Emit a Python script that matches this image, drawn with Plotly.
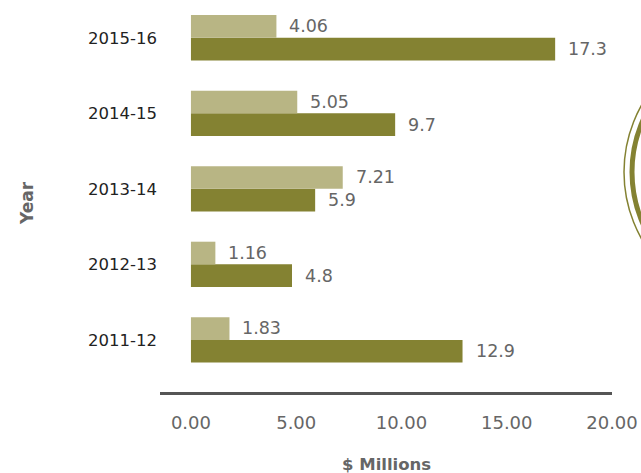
import plotly.graph_objects as go

# Funding by financial year ($ millions)
years = ["2011-12", "2012-13", "2013-14", "2014-15", "2015-16"]
series_light = [1.83, 1.16, 7.21, 5.05, 4.06]
series_dark = [12.9, 4.8, 5.9, 9.7, 17.3]
x_ticks = [0, 5, 10, 15, 20]

LIGHT = "#b8b584"
DARK = "#848232"
GREY = "#666666"
FONT = "DejaVu Sans"

W, H = 641, 473
ML, MR, MT, MB = 160, 29, 0, 81
PW, PH = W - ML - MR, H - MT - MB


def px_to_paper(px, py):
    return (px - ML) / PW, (H - MB - py) / PH


fig = go.Figure()
# dark first so it sits in the lower slot of each group
fig.add_trace(go.Bar(y=years, x=series_dark, orientation="h",
                     marker=dict(color=DARK, line=dict(width=0)),
                     hoverinfo="skip"))
fig.add_trace(go.Bar(y=years, x=series_light, orientation="h",
                     marker=dict(color=LIGHT, line=dict(width=0)),
                     hoverinfo="skip"))

annotations = []
for yr, v in zip(years, series_light):
    annotations.append(dict(x=v, y=yr, xref="x", yref="y", text=f"{v:.2f}",
                            showarrow=False, xanchor="left", yanchor="middle",
                            xshift=11, yshift=11.5,
                            font=dict(family=FONT, size=17.5, color=GREY)))
for yr, v in zip(years, series_dark):
    annotations.append(dict(x=v, y=yr, xref="x", yref="y", text=f"{v:g}",
                            showarrow=False, xanchor="left", yanchor="middle",
                            xshift=11, yshift=-11.5,
                            font=dict(family=FONT, size=17.5, color=GREY)))

# axis titles
tx, ty = px_to_paper(27, 203)
annotations.append(dict(x=tx, y=ty, xref="paper", yref="paper", text="Year",
                        textangle=-90, showarrow=False,
                        xanchor="center", yanchor="middle",
                        font=dict(family=FONT, size=17, color=GREY, weight="bold")))
mx, my = px_to_paper(386, 464)
annotations.append(dict(x=mx, y=my, xref="paper", yref="paper", text="$ Millions",
                        showarrow=False, xanchor="center", yanchor="middle",
                        font=dict(family=FONT, size=16.5, color=GREY, weight="bold")))

# decorative double ring at the right edge
cx, cy = 760, 172
shapes = []
for r, w in [(136, 1.5), (128, 5)]:
    x0, y1 = px_to_paper(cx - r, cy - r)
    x1, y0 = px_to_paper(cx + r, cy + r)
    shapes.append(dict(type="circle", xref="paper", yref="paper",
                       x0=x0, x1=x1, y0=y0, y1=y1,
                       line=dict(color=DARK, width=w), layer="above"))

fig.update_layout(
    width=W, height=H,
    margin=dict(l=ML, r=MR, t=MT, b=MB, pad=0),
    paper_bgcolor="white", plot_bgcolor="white",
    barmode="group", bargap=0.4, bargroupgap=0,
    showlegend=False,
    annotations=annotations,
    shapes=shapes,
    xaxis=dict(range=[-1.47, 20], tickvals=x_ticks, tickformat=".2f",
               showgrid=False, zeroline=False,
               showline=True, linecolor="#555555", linewidth=3,
               ticks="", ticklabelstandoff=12,
               tickfont=dict(family=FONT, size=18, color=GREY),
               fixedrange=True),
    yaxis=dict(type="category", range=[-0.69, 4.5],
               showgrid=False, zeroline=False, showline=False,
               ticks="", ticklabelstandoff=2,
               tickfont=dict(family=FONT, size=16.5, color="#222222"),
               fixedrange=True),
)

fig.write_html("out.html", config={"displayModeBar": False})
